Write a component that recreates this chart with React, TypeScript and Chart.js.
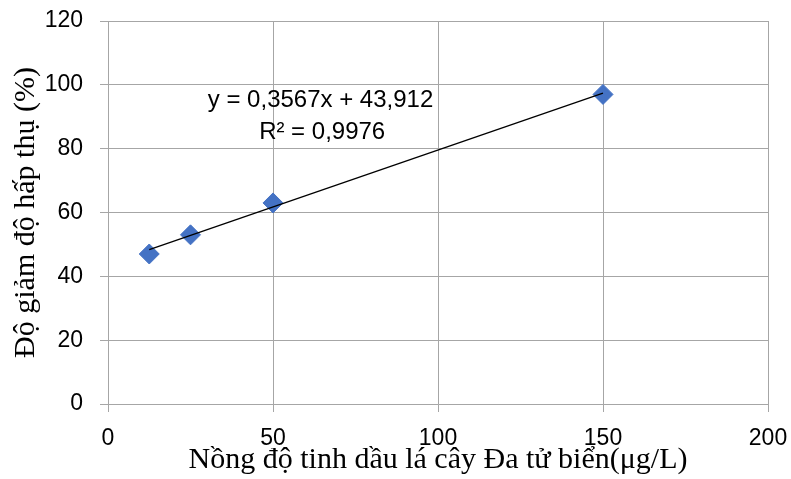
import React, { useEffect, useRef } from "react";
import { Chart, registerables } from "chart.js";

Chart.register(...registerables);

const concentrations = [12.5, 25, 50, 150];
const absorbanceDrop = [47, 53, 63, 97];
const trendX = [12.5, 150];
const trendY = [48.4, 97.4];
const xTicks = [0, 50, 100, 150, 200];
const yTicks = [0, 20, 40, 60, 80, 100, 120];
const equationLines = ["y = 0,3567x + 43,912", "R² = 0,9976"];
const equationAnchor = { x: [64.4, 64.9], y: [95.2, 85.2] };

const xTitle = "Nồng độ tinh dầu lá cây Đa tử biển(μg/L)";
const yTitle = "Độ giảm độ hấp thụ (%)";

const gridColor = "#A6A6A6";

const equationPlugin = {
  id: "equationLabel",
  afterDatasetsDraw(chart: any) {
    const { ctx, scales } = chart;
    ctx.save();
    ctx.font = '24px "Liberation Sans", Arial, sans-serif';
    ctx.fillStyle = "#000";
    ctx.textAlign = "center";
    ctx.textBaseline = "middle";
    equationLines.forEach((line, i) => {
      ctx.fillText(
        line,
        scales.x.getPixelForValue(equationAnchor.x[i]),
        scales.y.getPixelForValue(equationAnchor.y[i])
      );
    });
    ctx.restore();
  },
};

export default function App() {
  const ref = useRef<HTMLCanvasElement | null>(null);

  useEffect(() => {
    document.body.style.margin = "0";
    const canvas = ref.current;
    if (!canvas) return;
    const chart = new Chart(canvas, {
      type: "scatter",
      data: {
        datasets: [
          {
            type: "line",
            data: trendX.map((x, i) => ({ x, y: trendY[i] })),
            borderColor: "#000",
            borderWidth: 1.3,
            pointRadius: 0,
            fill: false,
          } as any,
          {
            data: concentrations.map((x, i) => ({ x, y: absorbanceDrop[i] })),
            backgroundColor: "#4472C4",
            borderColor: "#4472C4",
            pointStyle: "rectRot",
            pointRadius: 10,
            pointHoverRadius: 10,
          },
        ],
      },
      options: {
        animation: false,
        responsive: false,
        events: [],
        layout: { padding: { top: 21, right: 23, left: 0, bottom: 0 } },
        plugins: { legend: { display: false }, tooltip: { enabled: false } },
        scales: {
          x: {
            type: "linear",
            min: 0,
            max: 200,
            afterBuildTicks: (s: any) => {
              s.ticks = xTicks.map((v) => ({ value: v }));
            },
            afterFit: (s: any) => {
              s.height = 75;
              s.paddingLeft = 0;
              s.paddingRight = 0;
            },
            grid: { color: gridColor, tickColor: gridColor, tickLength: 8, lineWidth: 1 },
            border: { color: gridColor },
            ticks: {
              color: "#000",
              padding: 13,
              maxRotation: 0,
              font: { family: '"Liberation Sans", Arial, sans-serif', size: 23 },
            },
            title: {
              display: true,
              text: xTitle,
              color: "#000",
              padding: { top: 0, bottom: 1 },
              font: { family: '"Liberation Serif", "Times New Roman", serif', size: 30 },
            },
          },
          y: {
            type: "linear",
            min: 0,
            max: 120,
            afterBuildTicks: (s: any) => {
              s.ticks = yTicks.map((v) => ({ value: v }));
            },
            afterFit: (s: any) => {
              s.width = 108;
              s.paddingTop = 0;
              s.paddingBottom = 0;
            },
            grid: { color: gridColor, tickColor: gridColor, tickLength: 8, lineWidth: 1 },
            border: { color: gridColor },
            ticks: {
              color: "#000",
              padding: 17,
              font: { family: '"Liberation Sans", Arial, sans-serif', size: 23 },
            },
            title: {
              display: true,
              text: yTitle,
              color: "#000",
              padding: { top: 8, bottom: 0 },
              font: { family: '"Liberation Serif", "Times New Roman", serif', size: 30 },
            },
          },
        },
      },
      plugins: [equationPlugin],
    });
    return () => chart.destroy();
  }, []);

  return (
    <div style={{ width: 791, height: 479, background: "#fff" }}>
      <canvas ref={ref} width={791} height={479} style={{ display: "block" }} />
    </div>
  );
}
